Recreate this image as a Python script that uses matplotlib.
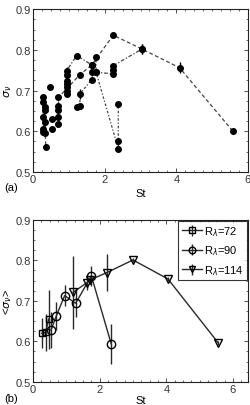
import matplotlib
matplotlib.use("Agg")
import matplotlib.pyplot as plt
from matplotlib.ticker import MultipleLocator

plt.rcParams['font.family'] = ['Liberation Sans', 'DejaVu Sans']
plt.rcParams['mathtext.fontset'] = 'dejavusans'

# ---- panel (a): individual runs ----
run1_x = [0.71, 0.71, 0.71, 0.71, 0.71, 1.31, 1.64, 2.24, 3.04, 4.09, 5.58]
run1_y = [0.618, 0.634, 0.651, 0.663, 0.683, 0.739, 0.763, 0.836, 0.802, 0.756, 0.600]
run1_e = [0.005, 0.005, 0.005, 0.005, 0.005, 0.005, 0.008, 0.007, 0.013, 0.013, 0.005]

run2_x = [0.94, 0.94, 0.94, 0.94, 0.94, 0.94, 0.94, 1.22, 1.64, 1.64, 1.76, 2.24, 2.24, 2.24, 3.04]
run2_y = [0.692, 0.700, 0.708, 0.716, 0.724, 0.737, 0.749, 0.786, 0.763, 0.745, 0.745,
          0.741, 0.751, 0.761, 0.802]
run2_e = [0.006, 0.006, 0.006, 0.006, 0.006, 0.006, 0.008, 0.005, 0.008, 0.005, 0.005,
          0.005, 0.005, 0.006, 0.013]

run3_x = [1.22, 1.31, 1.31, 1.64, 1.76, 1.76, 2.38, 2.38, 2.38]
run3_y = [0.659, 0.661, 0.692, 0.727, 0.782, 0.745, 0.557, 0.575, 0.667]
run3_e = [0.005, 0.005, 0.012, 0.005, 0.006, 0.005, 0.005, 0.008, 0.008]

run4_x = [0.27, 0.27, 0.29, 0.29, 0.29, 0.34, 0.34, 0.34, 0.34, 0.36]
run4_y = [0.683, 0.671, 0.634, 0.606, 0.598, 0.659, 0.651, 0.622, 0.596, 0.561]
run4_e = [0.005, 0.008, 0.008, 0.005, 0.005, 0.006, 0.008, 0.008, 0.005, 0.005]

loose_x = [0.47, 0.52, 0.52]
loose_y = [0.708, 0.630, 0.605]

# ---- panel (b): averages per Reynolds number ----
r72_x = [0.26, 0.38, 0.47]
r72_y = [0.620, 0.622, 0.655]
r72_e = [0.037, 0.045, 0.073]

r90_x = [0.54, 0.70, 0.95, 1.28, 1.75, 2.35]
r90_y = [0.628, 0.663, 0.713, 0.694, 0.762, 0.593]
r90_e = [0.045, 0.035, 0.025, 0.035, 0.025, 0.050]

r114_x = [1.20, 1.62, 1.72, 2.22, 3.00, 4.05, 5.55]
r114_y = [0.721, 0.745, 0.752, 0.770, 0.801, 0.754, 0.597]
r114_e = [0.090, 0.018, 0.010, 0.045, 0.006, 0.005, 0.005]

line_col = '#2a2a2a'

fig = plt.figure(figsize=(2.5, 4.06), dpi=100)
ax1 = fig.add_axes([0.132, 0.574, 0.860, 0.401])
ax2 = fig.add_axes([0.132, 0.057, 0.860, 0.399])

# panel (a)
runs = [(run1_x, run1_y, run1_e, (0, (3, 2))),
        (run2_x, run2_y, run2_e, (0, (3, 1.5, 1, 1.5))),
        (run3_x, run3_y, run3_e, (0, (2, 1.5, 1, 1.5))),
        (run4_x, run4_y, run4_e, (0, (3, 2)))]
for xs, ys, es, ls in runs:
    ax1.plot(xs, ys, color='#444444', lw=0.9, linestyle=ls, zorder=1)
    ax1.errorbar(xs, ys, yerr=es, fmt='o', color='k', ms=4, elinewidth=1.0,
                 capsize=0, zorder=2)
ax1.plot(loose_x, loose_y, 'o', color='k', ms=4, zorder=2)

ax1.set_xlim(0, 6)
ax1.set_ylim(0.5, 0.9)
ax1.set_xticks([0, 2, 4, 6])
ax1.set_yticks([0.5, 0.6, 0.7, 0.8, 0.9])
ax1.set_ylabel(r'$\sigma_\nu$', fontsize=8, labelpad=1)
ax1.set_xlabel('St', fontsize=8, labelpad=2.5)
ax1.text(-0.135, -0.11, '(a)', transform=ax1.transAxes, fontsize=8)

# panel (b)
ax2.errorbar(r72_x, r72_y, yerr=r72_e, fmt='-s', color=line_col, mfc='none', mec='k',
             ms=5, lw=1.0, elinewidth=1.0, capsize=0, label=r'R$_\lambda$=72')
ax2.errorbar(r90_x, r90_y, yerr=r90_e, fmt='-o', color=line_col, mfc='none', mec='k',
             ms=6, lw=1.0, elinewidth=1.0, capsize=0, label=r'R$_\lambda$=90')
ax2.errorbar(r114_x, r114_y, yerr=r114_e, fmt='-v', color=line_col, mfc='none', mec='k',
             ms=6, lw=1.0, elinewidth=1.0, capsize=0, label=r'R$_\lambda$=114')

ax2.set_xlim(0, 6.45)
ax2.set_ylim(0.5, 0.9)
ax2.set_xticks([0, 2, 4, 6])
ax2.set_yticks([0.5, 0.6, 0.7, 0.8, 0.9])
ax2.set_ylabel(r'<$\sigma_\nu$>', fontsize=8, labelpad=1)
ax2.set_xlabel('St', fontsize=8, labelpad=1)
ax2.text(-0.135, -0.12, '(b)', transform=ax2.transAxes, fontsize=8)

leg = ax2.legend(loc='upper right', fontsize=8, frameon=True, fancybox=False,
                 borderaxespad=0.1, handlelength=1.8, handletextpad=0.2,
                 borderpad=0.3, labelspacing=0.5, markerscale=0.8)
leg.get_frame().set_edgecolor('k')
leg.get_frame().set_linewidth(0.8)

for ax in (ax1, ax2):
    ax.xaxis.set_minor_locator(MultipleLocator(0.25))
    ax.yaxis.set_minor_locator(MultipleLocator(0.025))
    ax.tick_params(which='both', direction='in', top=True, right=True,
                   labelsize=8, colors='#333333', pad=1.5)
    ax.tick_params(which='major', length=3, width=0.6)
    ax.tick_params(which='minor', length=1.5, width=0.5)
    for sp in ax.spines.values():
        sp.set_linewidth(0.8)
        sp.set_color('#222222')

fig.savefig('out.png', dpi=100)
